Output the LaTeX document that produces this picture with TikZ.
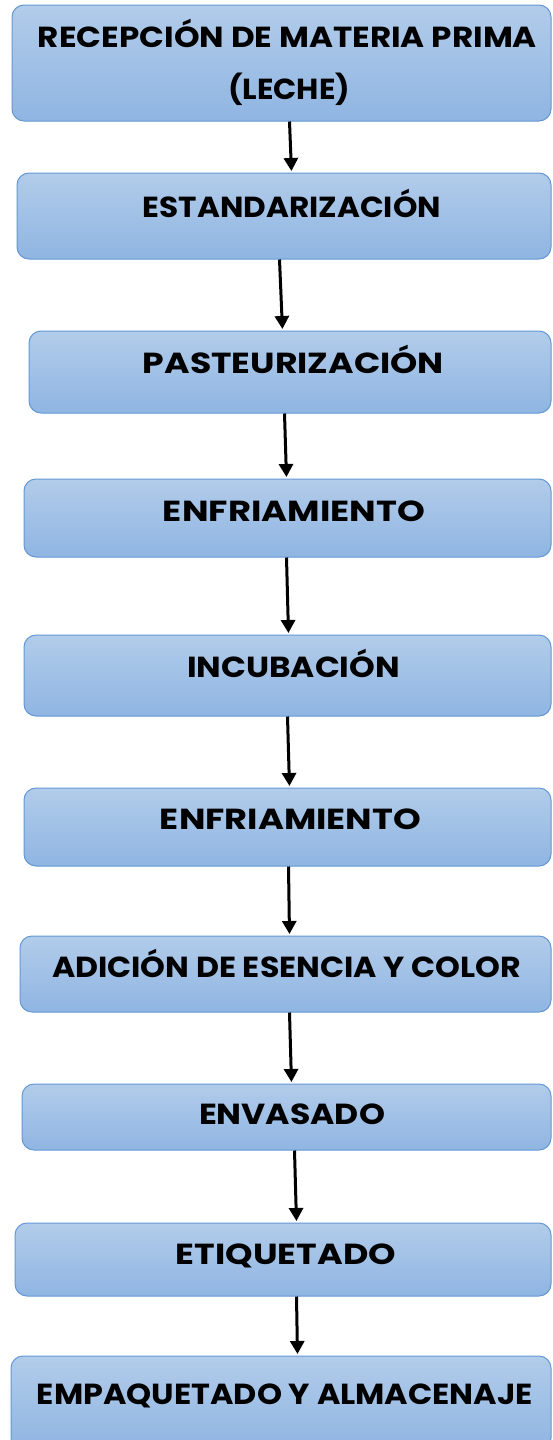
\documentclass[tikz,border=0pt]{standalone}
\usepackage{fontspec}
\setmainfont{Poppins}
\usepackage{graphicx}
\usetikzlibrary{arrows.meta}
\definecolor{boxtop}{RGB}{178,204,234}
\definecolor{boxbot}{RGB}{143,181,226}
\definecolor{boxline}{RGB}{100,152,212}
\tikzset{
  stagebox/.style={draw=boxline, line width=1pt, rounded corners=12pt,
    top color=boxtop, bottom color=boxbot, inner sep=0pt},
  lbl/.style={anchor=base, inner sep=0pt, font=\fontsize{29}{32}\selectfont\bfseries},
  arr/.style={line width=3pt, -{Triangle[width=14pt,length=13pt]}, shorten >=1.5pt}
}
\newcommand{\fw}[2]{\resizebox{#1pt}{\height}{#2}}
\begin{document}
\begin{tikzpicture}[x=1pt,y=-1pt]
\clip (0,0) rectangle (552,1440);
\fill[white] (0,0) rectangle (552,1440);
% boxes
\node[stagebox, minimum width=539pt, minimum height=116pt] (b1) at (281.5,63) {};
\node[stagebox, minimum width=534pt, minimum height=86pt] (b2) at (284,216) {};
\node[stagebox, minimum width=522pt, minimum height=82pt] (b3) at (290,372) {};
\node[stagebox, minimum width=527pt, minimum height=78pt] (b4) at (287.5,518) {};
\node[stagebox, minimum width=527pt, minimum height=81pt] (b5) at (287.5,675.5) {};
\node[stagebox, minimum width=527pt, minimum height=78pt] (b6) at (287.5,827) {};
\node[stagebox, minimum width=531pt, minimum height=76pt] (b7) at (285.5,974) {};
\node[stagebox, minimum width=529pt, minimum height=66pt] (b8) at (286.5,1117) {};
\node[stagebox, minimum width=536pt, minimum height=73pt] (b9) at (283,1259.5) {};
\node[stagebox, minimum width=540pt, minimum height=94pt] (b10) at (281,1403) {};
% labels
\node[lbl] (t1a) at (287.5,47) {\fw{499}{RECEPCIÓN DE MATERIA PRIMA}};
\node[lbl] (t1b) at (289,99) {\fw{122}{(LECHE)}};
\node[lbl] (t2) at (292,217) {\fw{298}{ESTANDARIZACIÓN}};
\node[lbl] (t3) at (293.5,373.5) {\fw{301}{PASTEURIZACIÓN}};
\node[lbl] (t4) at (294,521.5) {\fw{262}{ENFRIAMIENTO}};
\node[lbl] (t5) at (293.5,677.5) {\fw{213}{INCUBACIÓN}};
\node[lbl] (t6) at (290.5,829.5) {\fw{261}{ENFRIAMIENTO}};
\node[lbl] (t7) at (286.5,977.5) {\fw{469}{ADICIÓN DE ESENCIA Y COLOR}};
\node[lbl] (t8) at (292,1124.5) {\fw{186}{ENVASADO}};
\node[lbl] (t9) at (286,1264.5) {\fw{220}{ETIQUETADO}};
\node[lbl] (t10) at (285,1404.5) {\fw{496}{EMPAQUETADO Y ALMACENAJE}};
% arrows
\draw[arr] ([xshift=278pt]b1.south west) -- ([xshift=275pt]b2.north west);
\draw[arr] ([xshift=263pt]b2.south west) -- ([xshift=254pt]b3.north west);
\draw[arr] ([xshift=256pt]b3.south west) -- ([xshift=263pt]b4.north west);
\draw[arr] ([xshift=263pt]b4.south west) -- ([xshift=265pt]b5.north west);
\draw[arr] ([xshift=264pt]b5.south west) -- ([xshift=266pt]b6.north west);
\draw[arr] ([xshift=265pt]b6.south west) -- ([xshift=270pt]b7.north west);
\draw[arr] ([xshift=270pt]b7.south west) -- ([xshift=270pt]b8.north west);
\draw[arr] ([xshift=273pt]b8.south west) -- ([xshift=282pt]b9.north west);
\draw[arr] ([xshift=282pt]b9.south west) -- ([xshift=287pt]b10.north west);
\end{tikzpicture}
\end{document}
